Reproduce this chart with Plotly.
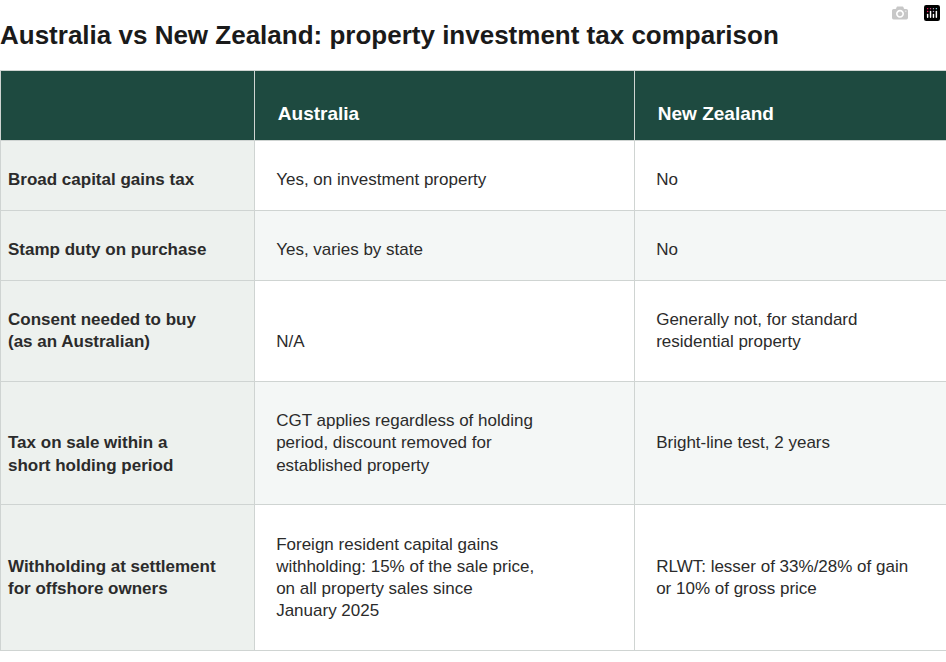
import plotly.graph_objects as go

title = "Australia vs New Zealand: property investment tax comparison"
headers = ["", "Australia", "New Zealand"]
features = ["Broad capital gains tax", "Stamp duty on purchase",
            "Consent needed to buy<br>(as an Australian)",
            "Tax on sale within a<br>short holding period",
            "Withholding at settlement<br>for offshore owners"]
australia = ["Yes, on investment property", "Yes, varies by state", "N/A",
             "CGT applies regardless of holding<br>period, discount removed for<br>established property",
             "Foreign resident capital gains<br>withholding: 15% of the sale price,<br>on all property sales since<br>January 2025"]
new_zealand = ["No", "No", "Generally not, for standard<br>residential property",
               "Bright-line test, 2 years",
               "RLWT: lesser of 33%/28% of gain<br>or 10% of gross price"]

row_lines = [2, 2, 4, 5, 6]  # total text lines per row (for vertical centering)
pad = "\u00a0" * 3


def center(lst, bold=False, prefix=""):
    out = []
    for s, n in zip(lst, row_lines):
        parts = s.split("<br>")
        if bold:
            parts = ["<b>" + q + "</b>" for q in parts]
        parts = [prefix + q for q in parts]
        k = len(parts)
        lead = max(0, round((n - k) / 2 + 0.01))
        trail = max(0, n - k - lead)
        out.append("<br>".join(["\u00a0"] * lead + parts + ["\u00a0"] * trail))
    return out


row_bg = ["#ffffff", "#f4f7f6", "#ffffff", "#f4f7f6", "#ffffff"]
first_bg = ["#edf1ee"] * len(features)
font_fam = "Liberation Sans, Arial"

fig = go.Figure(go.Table(
    domain=dict(x=[0, 1], y=[0, 1]),
    columnwidth=[254, 380, 312],
    header=dict(values=["\u00a0<br>" + (("<b>" + pad + h + "</b>") if h else "") for h in headers],
                fill_color="#1e4a40", line_color="#cfd4d2",
                font=dict(color="white", size=19, family=font_fam),
                align="left", height=70),
    cells=dict(values=[center(features, bold=True),
                       center(australia, prefix=pad), center(new_zealand, prefix=pad)],
               fill_color=[first_bg, row_bg, row_bg], line_color="#cfd4d2",
               font=dict(color="#2b2b2b", size=17, family=font_fam),
               align="left", height=70),
))
fig.update_layout(
    width=946, height=662, paper_bgcolor="white",
    margin=dict(l=0, r=0, t=70, b=0),
    title=dict(text="<b>" + title + "</b>", x=0, xanchor="left", y=1 - 35 / 662, yanchor="middle",
               font=dict(size=26, color="#1a1a1a", family=font_fam)),
)
fig.write_html("out.html", post_script="document.body.style.margin='0';")
